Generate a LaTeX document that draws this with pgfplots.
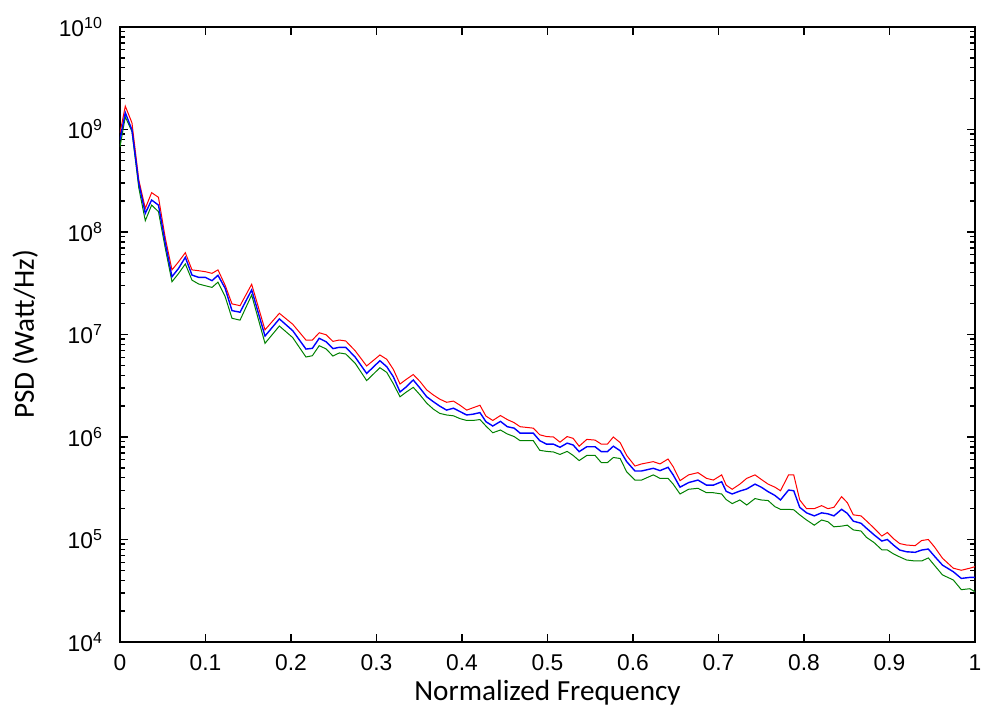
\documentclass[border=0pt]{standalone}
\usepackage{pgfplots}
\pgfplotsset{compat=1.18}
\usepackage{pgfplotstable}
\usepackage{fontspec}
\setmainfont{Liberation Sans}
\newfontfamily\calibri{Carlito}
\definecolor{mred}{RGB}{255,0,0}
\definecolor{mblue}{RGB}{0,0,255}
\definecolor{mgreen}{RGB}{0,128,0}

\pgfplotstableread{
x B R G
0.000 7.91e8 9.25e8 6.76e8
0.0062 1.46e9 1.69e9 1.33e9
0.014 9.89e8 1.16e9 9.55e8
0.022 2.99e8 3.21e8 2.69e8
0.0296 1.52e8 1.70e8 1.29e8
0.037 2.05e8 2.42e8 1.83e8
0.045 1.83e8 2.18e8 1.58e8
0.053 7.76e7 8.71e7 6.92e7
0.0608 3.66e7 4.27e7 3.27e7
0.0686 4.43e7 5.13e7 3.95e7
0.0764 5.66e7 6.28e7 4.88e7
0.0842 3.80e7 4.27e7 3.39e7
0.092 3.61e7 4.19e7 3.11e7
0.0998 3.61e7 4.10e7 2.99e7
0.1076 3.35e7 3.95e7 2.88e7
0.1146 3.78e7 4.27e7 3.24e7
0.123 2.82e7 3.02e7 2.34e7
0.131 1.71e7 1.99e7 1.44e7
0.1404 1.65e7 1.91e7 1.38e7
0.154 2.72e7 3.09e7 2.43e7
0.1696 9.66e6 1.11e7 8.20e6
0.1864 1.42e7 1.61e7 1.21e7
0.202 1.09e7 1.26e7 9.33e6
0.2175 7.21e6 8.83e6 6.03e6
0.225 7.33e6 8.83e6 6.21e6
0.233 9.18e6 1.04e7 7.78e6
0.241 8.51e6 9.95e6 7.24e6
0.249 7.28e6 8.57e6 6.17e6
0.2565 7.50e6 8.83e6 6.61e6
0.264 7.50e6 8.65e6 6.46e6
0.275 6.03e6 6.95e6 5.25e6
0.2885 4.17e6 4.93e6 3.55e6
0.304 5.55e6 6.31e6 4.74e6
0.312 4.85e6 5.73e6 4.27e6
0.3197 3.87e6 4.57e6 3.31e6
0.3275 2.75e6 3.29e6 2.47e6
0.335 3.09e6 3.66e6 2.75e6
0.343 3.60e6 4.07e6 3.05e6
0.351 2.99e6 3.47e6 2.57e6
0.3587 2.47e6 2.88e6 2.14e6
0.3665 2.21e6 2.57e6 1.87e6
0.374 2.00e6 2.34e6 1.70e6
0.382 1.83e6 2.18e6 1.64e6
0.39 1.91e6 2.24e6 1.61e6
0.3977 1.77e6 2.04e6 1.51e6
0.4055 1.64e6 1.83e6 1.45e6
0.413 1.67e6 1.93e6 1.45e6
0.421 1.73e6 2.04e6 1.48e6
0.428 1.41e6 1.60e6 1.28e6
0.436 1.28e6 1.45e6 1.10e6
0.445 1.42e6 1.62e6 1.17e6
0.453 1.26e6 1.48e6 1.07e6
0.461 1.22e6 1.38e6 1.01e6
0.468 1.09e6 1.26e6 9.20e5
0.4834 1.09e6 1.22e6 9.20e5
0.491 9.20e5 1.05e6 7.41e5
0.499 8.51e5 1.01e6 7.24e5
0.507 8.51e5 1.00e6 7.14e5
0.5146 7.94e5 8.91e5 6.76e5
0.523 8.71e5 1.01e6 7.24e5
0.530 8.36e5 9.70e5 6.61e5
0.537 7.19e5 8.13e5 5.89e5
0.546 8.04e5 9.48e5 6.61e5
0.5556 8.04e5 9.33e5 6.61e5
0.563 7.19e5 8.51e5 5.62e5
0.570 7.19e5 8.51e5 5.62e5
0.577 8.13e5 1.00e6 6.31e5
0.585 7.35e5 8.81e5 6.17e5
0.5926 5.75e5 6.61e5 4.57e5
0.6023 4.66e5 5.21e5 3.80e5
0.61 4.66e5 5.46e5 3.80e5
0.6237 4.95e5 5.75e5 4.27e5
0.6316 4.70e5 5.46e5 3.95e5
0.641 5.06e5 6.10e5 3.95e5
0.647 4.27e5 5.13e5 3.47e5
0.655 3.24e5 3.75e5 2.78e5
0.665 3.59e5 4.27e5 3.09e5
0.676 3.80e5 4.49e5 3.16e5
0.686 3.39e5 3.95e5 2.86e5
0.694 3.39e5 3.80e5 2.86e5
0.7037 3.66e5 4.27e5 2.78e5
0.709 2.95e5 3.39e5 2.45e5
0.716 2.78e5 3.09e5 2.24e5
0.725 2.97e5 3.47e5 2.43e5
0.733 3.11e5 3.95e5 2.17e5
0.7427 3.47e5 4.27e5 2.51e5
0.750 3.24e5 3.86e5 2.43e5
0.758 2.93e5 3.47e5 2.40e5
0.766 2.69e5 3.24e5 2.09e5
0.7725 2.43e5 2.99e5 1.97e5
0.782 3.04e5 4.27e5 1.97e5
0.788 2.99e5 4.27e5 1.95e5
0.795 2.06e5 2.43e5 1.74e5
0.803 1.82e5 2.00e5 1.55e5
0.812 1.70e5 2.00e5 1.38e5
0.8206 1.82e5 2.14e5 1.55e5
0.828 1.78e5 2.00e5 1.49e5
0.835 1.70e5 2.06e5 1.33e5
0.844 1.97e5 2.62e5 1.35e5
0.8506 1.80e5 2.29e5 1.38e5
0.8577 1.51e5 1.74e5 1.24e5
0.8667 1.44e5 1.70e5 1.21e5
0.873 1.29e5 1.52e5 1.05e5
0.882 1.11e5 1.29e5 9.33e4
0.891 9.66e4 1.08e5 7.94e4
0.8975 1.00e5 1.17e5 7.91e4
0.9046 8.83e4 1.02e5 7.24e4
0.912 7.89e4 9.12e4 6.76e4
0.92 7.59e4 8.83e4 6.31e4
0.93 7.50e4 8.71e4 6.17e4
0.9376 7.89e4 9.77e4 6.17e4
0.9454 8.07e4 1.00e5 6.61e4
0.9524 6.90e4 8.51e4 5.62e4
0.962 5.62e4 6.56e4 4.51e4
0.9746 4.85e4 5.25e4 4.03e4
0.984 4.17e4 5.01e4 3.24e4
0.994 4.27e4 5.25e4 3.31e4
1.0 4.27e4 5.43e4 3.09e4
}\psd

\begin{document}
\begin{tikzpicture}
\path[use as bounding box] (-60pt,-39pt) rectangle (431pt,321pt);
\begin{axis}[
  at={(0,0)}, anchor=south west,
  scale only axis, width=427.5pt, height=307.5pt,
  ymode=log, xmin=0, xmax=1, ymin=1e4, ymax=1e10,
  xtick={0,0.1,0.2,0.3,0.4,0.5,0.6,0.7,0.8,0.9,1},
  xticklabels={0,0.1,0.2,0.3,0.4,0.5,0.6,0.7,0.8,0.9,1},
  ytick={1e4,1e5,1e6,1e7,1e8,1e9,1e10},
  yticklabels={10\textsuperscript{4},10\textsuperscript{5},10\textsuperscript{6},10\textsuperscript{7},10\textsuperscript{8},10\textsuperscript{9},10\textsuperscript{10}},
  minor ytick={2e4,3e4,4e4,5e4,6e4,7e4,8e4,9e4,2e5,3e5,4e5,5e5,6e5,7e5,8e5,9e5,2e6,3e6,4e6,5e6,6e6,7e6,8e6,9e6,2e7,3e7,4e7,5e7,6e7,7e7,8e7,9e7,2e8,3e8,4e8,5e8,6e8,7e8,8e8,9e8,2e9,3e9,4e9,5e9,6e9,7e9,8e9,9e9},
  tick align=inside,
  major tick length=4pt, minor tick length=2.5pt,
  every tick/.style={black, line width=0.7pt},
  axis line style={line width=0.8pt},
  ticklabel style={font=\fontsize{11.4}{13}\selectfont},
  xticklabel style={yshift=-3pt},
  yticklabel style={xshift=-5pt},
  xlabel={\calibri Normalized Frequency},
  ylabel={\calibri PSD (Watt/Hz)},
  label style={font=\fontsize{14.6}{17}\selectfont},
  xlabel style={at={(axis description cs:0.5,-0.082)}, anchor=center},
  ylabel style={at={(axis description cs:-0.111,0.5)}, anchor=center},
]
\addplot[mred, line width=0.5pt] table[x=x, y=R] {\psd};
\addplot[mgreen, line width=0.5pt] table[x=x, y=G] {\psd};
\addplot[mblue, line width=0.7pt] table[x=x, y=B] {\psd};
\end{axis}
\end{tikzpicture}
\end{document}
